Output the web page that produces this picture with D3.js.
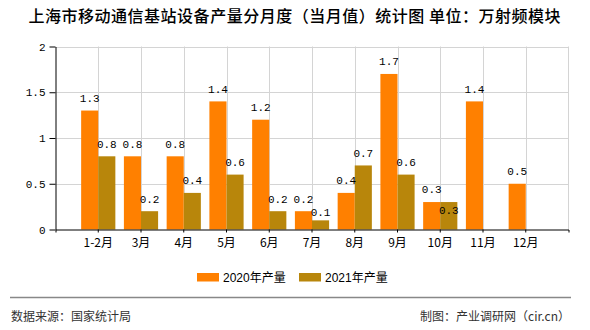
<!DOCTYPE html>
<html>
<head>
<meta charset="utf-8">
<script src="https://cdn.jsdelivr.net/npm/d3@7"></script>
<style>
  html, body { margin: 0; padding: 0; background: #fff; }
  svg { display: block; }
</style>
</head>
<body>
<svg id="chart" width="590" height="330"></svg>
<script>
const categories = ["1-2月","3月","4月","5月","6月","7月","8月","9月","10月","11月","12月"];
const values2020 = [1.3,0.8,0.8,1.4,1.2,0.2,0.4,1.7,0.3,1.4,0.5];
const values2021 = [0.8,0.2,0.4,0.6,0.2,0.1,0.7,0.6,0.3,null,null];
const seriesNames = ["2020年产量","2021年产量"];
const seriesColors = ["#FF8000","#B8860B"];
const yTicks = [0,0.5,1,1.5,2];
const titleText = "上海市移动通信基站设备产量分月度（当月值）统计图 单位：万射频模块";
const sourceText = "数据来源：国家统计局";
const creditText = "制图：产业调研网（cir.cn）";

(function () {
const svg = d3.select("#chart");
const pL = 55.5, pR = 568.5, pT = 46.5, pB = 229.5;
const cjk = "'Noto Sans CJK SC', 'Liberation Sans', sans-serif";
const mono = "'Liberation Mono', 'DejaVu Sans Mono', monospace";

const x = d3.scaleBand().domain(categories).range([pL, pR]).paddingInner(0).paddingOuter(0.5);
const y = d3.scaleLinear().domain([0, 2]).range([pB, pT]);
const step = x.step();
const barW = step * 0.4;
const cx = c => x(c) + x.bandwidth() / 2;

// title
svg.append("text").attr("x", 28.5).attr("y", 22).attr("text-anchor", "start")
  .attr("textLength", 532).attr("lengthAdjust", "spacing")
  .attr("font-family", cjk).attr("font-size", 16).attr("font-weight", 500).attr("fill", "#000")
  .text(titleText);

// grid
const grid = svg.append("g").attr("stroke", "#d4d4d4").attr("stroke-width", 1);
grid.selectAll("line.h").data(yTicks.filter(d => d > 0)).join("line")
  .attr("x1", pL).attr("x2", pR).attr("y1", d => Math.round(y(d)) + 0.5).attr("y2", d => Math.round(y(d)) + 0.5);
grid.selectAll("line.v").data(categories).join("line")
  .attr("x1", d => Math.round(cx(d)) + 0.5).attr("x2", d => Math.round(cx(d)) + 0.5)
  .attr("y1", pT).attr("y2", pB);
grid.append("line").attr("x1", pR).attr("x2", pR).attr("y1", pT).attr("y2", pB);

// bars
const series = [values2020, values2021];
series.forEach((vals, s) => {
  svg.append("g").selectAll("rect").data(categories.map((c, i) => ({c, v: vals[i]})).filter(d => d.v != null))
    .join("rect")
    .attr("x", d => cx(d.c) - barW + s * barW)
    .attr("width", barW)
    .attr("y", d => y(d.v))
    .attr("height", d => y(0) - y(d.v))
    .attr("fill", seriesColors[s]);
});

// axes
const xAxis = svg.append("g").attr("transform", `translate(0,${pB})`)
  .call(d3.axisBottom(x).tickSize(3).tickSizeOuter(3));
xAxis.select(".domain").attr("stroke", "#000");
xAxis.selectAll(".tick line").attr("stroke", "#000");
xAxis.selectAll(".tick text").attr("font-family", cjk).attr("font-size", 12).attr("fill", "#000").attr("dy", "0.95em");

const yAxis = svg.append("g").attr("transform", `translate(${pL},0)`)
  .call(d3.axisLeft(y).tickValues(yTicks).tickSize(6).tickSizeOuter(0).tickPadding(4).tickFormat(d => String(d)));
yAxis.select(".domain").attr("stroke", "#000");
yAxis.selectAll(".tick line").attr("stroke", "#000");
yAxis.selectAll(".tick text").attr("font-family", mono).attr("font-size", 11).attr("fill", "#000");

// value labels
const labelH = 12;
const labG = svg.append("g").attr("font-family", mono).attr("font-size", 11).attr("fill", "#000").attr("text-anchor", "middle");
categories.forEach((c, i) => {
  let prev = null;
  series.forEach((vals, s) => {
    const v = vals[i];
    if (v == null) return;
    const xc = cx(c) - barW / 2 + s * barW;
    const top0 = y(v);
    let ly = top0 - 12.5;
    if (prev !== null && Math.abs(ly - prev) < labelH) {
      const inside = (y(0) - top0) > 16 ? top0 + 8.5 : -Infinity;
      ly = Math.max(prev + 13.7, inside);
    }
    labG.append("text").attr("x", xc).attr("y", ly).attr("dy", "0.35em").text(String(v));
    prev = ly;
  });
});

// legend
const legend = svg.append("g");
const legX = [197, 299];
seriesNames.forEach((n, s) => {
  legend.append("rect").attr("x", legX[s]).attr("y", 273).attr("width", 22).attr("height", 8.5).attr("fill", seriesColors[s]);
  legend.append("text").attr("x", legX[s] + 26).attr("y", 281.5)
    .attr("font-family", "'Liberation Sans', 'Noto Sans CJK SC', sans-serif").attr("font-size", 12).attr("fill", "#000").text(n);
});

// footer
svg.append("line").attr("x1", 10).attr("x2", 571).attr("y1", 297.5).attr("y2", 297.5).attr("stroke", "#888").attr("stroke-width", 1.5);
svg.append("text").attr("x", 11).attr("y", 320.5).attr("font-family", cjk).attr("font-size", 12).attr("fill", "#333").text(sourceText);
svg.append("text").attr("x", 570).attr("y", 320.5).attr("text-anchor", "end").attr("font-family", cjk).attr("font-size", 12).attr("fill", "#333").text(creditText);
})();
</script>
</body>
</html>
